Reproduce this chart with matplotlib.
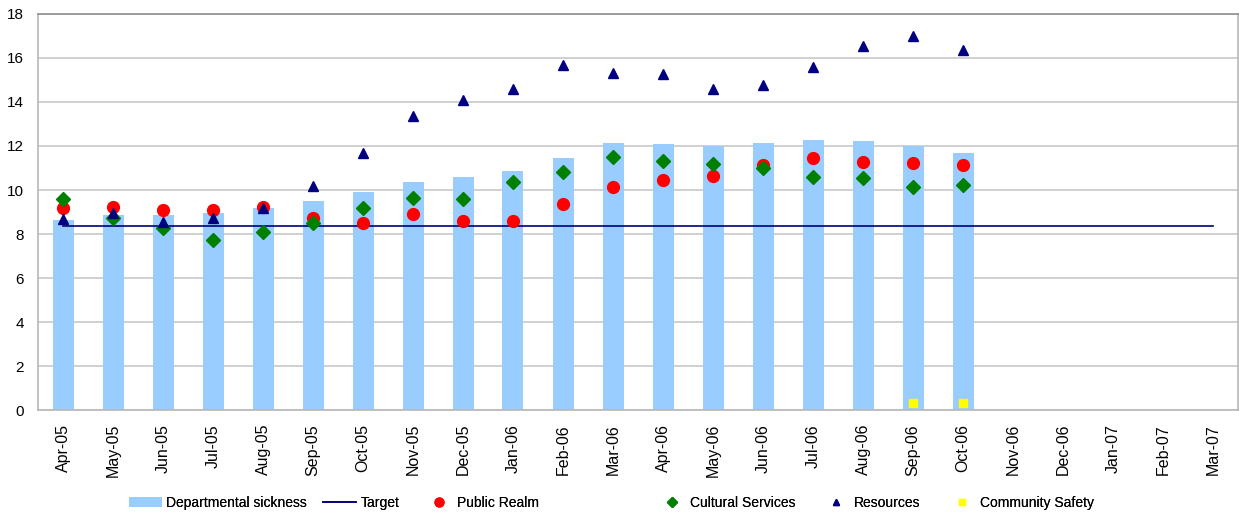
import matplotlib.pyplot as plt
import numpy as np

plt.rcParams['font.family'] = ['Liberation Sans', 'DejaVu Sans']

# 数据
months = ['Apr-05', 'May-05', 'Jun-05', 'Jul-05', 'Aug-05', 'Sep-05', 'Oct-05', 'Nov-05',
          'Dec-05', 'Jan-06', 'Feb-06', 'Mar-06', 'Apr-06', 'May-06', 'Jun-06', 'Jul-06',
          'Aug-06', 'Sep-06', 'Oct-06', 'Nov-06', 'Dec-06', 'Jan-07', 'Feb-07', 'Mar-07']

dept_sickness = [8.64, 8.86, 8.86, 8.97, 9.18, 9.5, 9.91, 10.36, 10.59, 10.86, 11.45, 12.14,
                 12.09, 12.0, 12.14, 12.27, 12.23, 12.0, 11.68]
target = [8.37] * 24
public_realm = [9.18, 9.24, 9.09, 9.09, 9.24, 8.72, 8.52, 8.92, 8.6, 8.6, 9.36, 10.14,
                10.45, 10.64, 11.13, 11.45, 11.27, 11.23, 11.15]
cultural = [9.58, 8.72, 8.27, 7.73, 8.09, 8.5, 9.18, 9.64, 9.58, 10.36, 10.82, 11.5,
            11.3, 11.18, 11.0, 10.6, 10.55, 10.15, 10.23]
resources = [8.68, 8.95, 8.55, 8.73, 9.18, 10.2, 11.68, 13.36, 14.1, 14.57, 15.7, 15.33,
             15.27, 14.57, 14.75, 15.59, 16.55, 17.0, 16.36]
community_safety = [None] * 17 + [0.32, 0.32]

x = np.arange(len(months))
n = len(dept_sickness)
cs = np.array([np.nan if v is None else v for v in community_safety])

fig = plt.figure(figsize=(12.39, 5.16), dpi=100)
ax = fig.add_axes([38 / 1239, 106 / 516, 1200 / 1239, 396 / 516])

h_bar = ax.bar(x[:n], dept_sickness, width=0.42, color='#99ccff', zorder=2)
h_tgt, = ax.plot(x, target, color='#000080', lw=1.2, zorder=3)
h_pr, = ax.plot(x[:n], public_realm, 'o', color='#ff0000', ms=8.5, ls='none', zorder=4)
h_cul, = ax.plot(x[:n], cultural, 'D', color='#008000', ms=7, ls='none', zorder=5)
h_res, = ax.plot(x[:n], resources, '^', color='#000080', ms=6.5, ls='none', zorder=6)
h_cs, = ax.plot(x[:len(cs)], cs, 's', color='#ffff00', ms=6, ls='none', zorder=7)

ax.set_xlim(-0.5, len(months) - 0.5)
ax.set_ylim(0, 18)
ax.set_yticks(range(0, 19, 2))
ax.set_xticks(x)
ax.set_xticklabels(months, rotation=90, fontsize=11.5)
ax.tick_params(axis='y', length=0, labelsize=11, pad=10)
ax.tick_params(axis='x', length=0, pad=10)
ax.grid(axis='y', color='#c8c8c8', lw=1.2, zorder=0)
ax.set_axisbelow(True)

for s in ['left', 'bottom', 'right']:
    ax.spines[s].set_color('#b8b8b8')
    ax.spines[s].set_linewidth(1.2)
ax.spines['top'].set_color('#909090')
ax.spines['top'].set_linewidth(1.2)

# 图例: 每项单独放置
entries = [
    (h_bar, 'Departmental sickness', 129, 2.4, 0.3),
    (h_tgt, 'Target', 323, 2.4, 0.3),
    (h_pr, 'Public Realm', 429, 1.45, 0.55),
    (h_cul, 'Cultural Services', 662, 1.45, 0.55),
    (h_res, 'Resources', 826, 1.45, 0.55),
    (h_cs, 'Community Safety', 952, 1.45, 0.55),
]
for h, lab, px, hl, tp in entries:
    leg = fig.legend([h], [lab], loc='center left', bbox_to_anchor=(px / 1239, 0.025),
                     frameon=False, fontsize=10, handlelength=hl, handletextpad=tp,
                     borderpad=0, borderaxespad=0, markerscale=0.75)
    fig.add_artist(leg)

plt.savefig('out.png', dpi=100)
